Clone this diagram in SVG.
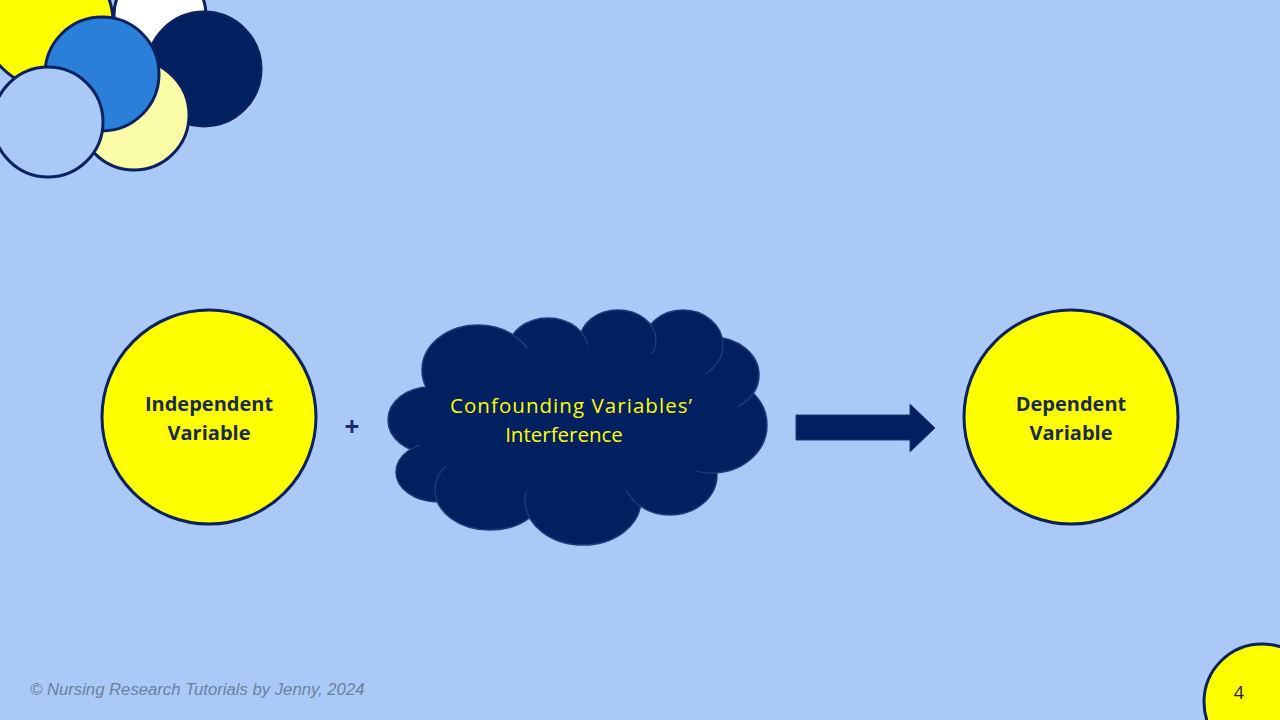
<svg xmlns="http://www.w3.org/2000/svg" width="1280" height="720" viewBox="0 0 1280 720">
<style>
.dk{stroke:#0b2160;stroke-width:3}
.lbl{font-family:"Open Sans","Liberation Sans",sans-serif;font-weight:bold;font-size:20px;fill:#1a2a4a;text-anchor:middle}
.cl{fill:#002060;stroke:#1f3a7a;stroke-width:1.5}
</style>
<rect width="1280" height="720" fill="#abc9f6"/>
<g id="deco">
<circle cx="48" cy="22" r="65" fill="#ffff00" class="dk"/>
<circle cx="160" cy="15" r="46" fill="#ffffff" class="dk"/>
<circle cx="204" cy="69" r="57" fill="#002060" class="dk"/>
<circle cx="134" cy="115" r="55" fill="#fafca8" class="dk"/>
<circle cx="102" cy="74" r="57" fill="#2a7fd8" class="dk"/>
<circle cx="48" cy="122" r="55" fill="#abc9f6" class="dk"/>
<circle cx="1262" cy="702" r="58" fill="#ffff00" class="dk"/>
</g>
<g id="independent">
<circle cx="209" cy="417" r="107" fill="#ffff00" class="dk"/>
<text class="lbl" x="209" y="411">Independent</text>
<text class="lbl" x="209" y="440">Variable</text>
</g>
<text x="352" y="436" font-family="Open Sans, Liberation Sans, sans-serif" font-weight="bold" font-size="26" fill="#1a2a6a" text-anchor="middle">+</text>
<g id="cloud">
<ellipse class="cl" cx="430" cy="420" rx="42" ry="33"/>
<ellipse class="cl" cx="438" cy="472" rx="42" ry="30"/>
<ellipse class="cl" cx="490" cy="490" rx="55" ry="40"/>
<ellipse class="cl" cx="583" cy="500" rx="58" ry="45"/>
<ellipse class="cl" cx="670" cy="475" rx="47" ry="40"/>
<ellipse class="cl" cx="712" cy="425" rx="55" ry="48"/>
<ellipse class="cl" cx="712" cy="375" rx="47" ry="38"/>
<ellipse class="cl" cx="683" cy="345" rx="40" ry="35"/>
<ellipse class="cl" cx="618" cy="340" rx="38" ry="30"/>
<ellipse class="cl" cx="548" cy="350" rx="40" ry="32"/>
<ellipse class="cl" cx="478" cy="370" rx="56" ry="45"/>
<ellipse cx="575" cy="420" rx="165" ry="75" fill="#002060"/>
<text x="571" y="413" font-family="Open Sans, Liberation Sans, sans-serif" font-size="20.5" fill="#ffff00" text-anchor="middle" textLength="242">Confounding Variables’</text>
<text x="564" y="442" font-family="Open Sans, Liberation Sans, sans-serif" font-size="20.5" fill="#ffff00" text-anchor="middle">Interference</text>
</g>
<g id="connectors">
<polygon points="796,415 910,415 910,404 935,428 910,452 910,440 796,440" fill="#002060" stroke="#1f3a7a" stroke-width="1"/>
</g>
<g id="dependent">
<circle cx="1071" cy="417" r="107" fill="#ffff00" class="dk"/>
<text class="lbl" x="1071" y="411">Dependent</text>
<text class="lbl" x="1071" y="440">Variable</text>
</g>
<text x="30" y="695" font-family="Liberation Sans, sans-serif" font-style="italic" font-size="16.7" fill="#6b7fa0">© Nursing Research Tutorials by Jenny, 2024</text>
<text x="1239" y="699" font-family="Open Sans, Liberation Sans, sans-serif" font-size="18" fill="#222" text-anchor="middle">4</text>
</svg>
